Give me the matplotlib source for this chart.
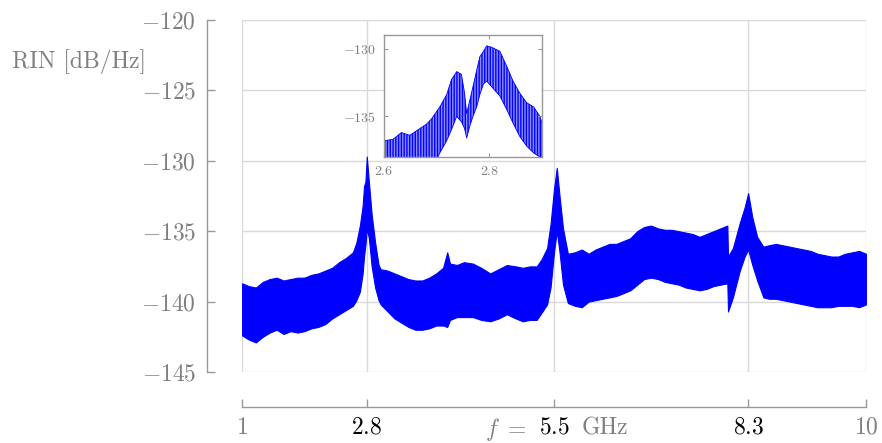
import numpy as np
import matplotlib.pyplot as plt

# RIN spectrum, envelopes (GHz, dB/Hz)
freq = [1.00, 1.10, 1.20, 1.30, 1.40, 1.50, 1.60, 1.70, 1.80, 1.90,
        2.00, 2.10, 2.20, 2.30, 2.40, 2.50, 2.60, 2.65, 2.70, 2.74,
        2.76, 2.78, 2.80, 2.83, 2.87, 2.92, 2.97, 3.00, 3.10, 3.20,
        3.30, 3.40, 3.50, 3.60, 3.70, 3.80, 3.90, 3.96, 4.00, 4.10,
        4.20, 4.33, 4.45, 4.58, 4.70, 4.82, 4.95, 5.05, 5.15, 5.25,
        5.32, 5.40, 5.45, 5.50, 5.54, 5.58, 5.63, 5.70, 5.80, 5.90,
        6.00, 6.10, 6.20, 6.30, 6.40, 6.50, 6.60, 6.70, 6.80, 6.90,
        7.00, 7.10, 7.20, 7.30, 7.40, 7.50, 7.60, 7.70, 7.80, 7.90,
        8.00, 8.01, 8.08, 8.18, 8.25, 8.30, 8.36, 8.43, 8.52, 8.60,
        8.70, 8.80, 8.90, 9.00, 9.10, 9.20, 9.30, 9.40, 9.50, 9.60,
        9.70, 9.80, 9.90, 10.0]
rin_hi = [-138.7, -138.9, -139.0, -138.6, -138.4, -138.3, -138.5, -138.4, -138.3, -138.3,
          -138.1, -138.0, -137.8, -137.6, -137.2, -136.9, -136.5, -135.8, -134.6, -133.2,
          -131.8, -131.5, -129.7, -131.5, -133.8, -135.8, -137.4, -137.7, -137.8, -138.0,
          -138.2, -138.4, -138.5, -138.5, -138.3, -138.0, -137.6, -136.5, -137.3, -137.4,
          -137.2, -137.3, -137.6, -138.0, -137.7, -137.4, -137.5, -137.6, -137.5, -137.5,
          -137.0, -136.2, -134.5, -132.0, -130.5, -132.5, -134.8, -136.6, -136.5, -136.3,
          -136.6, -136.3, -136.1, -135.9, -135.9, -135.7, -135.5, -135.0, -134.7, -134.6,
          -134.8, -134.9, -134.9, -135.0, -135.1, -135.2, -135.4, -135.2, -135.0, -134.8,
          -134.6, -136.8, -136.2, -134.4, -133.3, -132.3, -134.0, -135.4, -136.1, -136.0,
          -135.9, -136.0, -136.1, -136.2, -136.3, -136.4, -136.6, -136.7, -136.8, -136.8,
          -136.6, -136.5, -136.4, -136.6]
rin_lo = [-142.4, -142.7, -142.9, -142.5, -142.2, -142.0, -142.3, -142.1, -142.2, -142.1,
          -141.9, -141.8, -141.6, -141.2, -140.9, -140.6, -140.3, -139.9, -139.3, -138.0,
          -136.8, -136.0, -134.8, -135.5, -137.5, -139.0, -139.9, -140.2, -140.7, -141.2,
          -141.5, -141.8, -142.0, -142.0, -141.9, -141.7, -141.7, -141.8, -141.3, -141.1,
          -141.1, -141.1, -141.3, -141.4, -141.2, -140.9, -141.2, -141.4, -141.3, -141.3,
          -140.8, -140.2, -139.0, -136.5, -135.0, -136.5, -138.8, -140.1, -140.3, -140.4,
          -140.0, -139.9, -139.8, -139.7, -139.6, -139.4, -139.2, -138.8, -138.4, -138.3,
          -138.4, -138.6, -138.7, -138.8, -139.0, -139.1, -139.2, -139.1, -138.9, -138.8,
          -138.7, -140.7, -139.7, -137.8, -136.8, -136.3, -137.4, -138.5, -139.7, -139.8,
          -139.8, -139.9, -140.0, -140.1, -140.2, -140.3, -140.4, -140.4, -140.4, -140.3,
          -140.3, -140.3, -140.4, -140.2]

# zoom around the 2.8 GHz peak
zoom_f = [2.600, 2.617, 2.633, 2.649, 2.668, 2.680, 2.690, 2.706, 2.719, 2.728,
          2.738, 2.747, 2.753, 2.757, 2.763, 2.769, 2.776, 2.782, 2.789, 2.795,
          2.804, 2.820, 2.833, 2.845, 2.858, 2.871, 2.884, 2.896, 2.900]
zoom_hi = [-136.8, -136.7, -136.2, -136.4, -135.9, -135.6, -135.2, -134.3, -133.4, -132.3,
           -131.7, -131.9, -133.3, -134.8, -133.8, -132.8, -131.6, -130.6, -130.2, -129.8,
           -129.9, -130.2, -131.3, -132.4, -133.3, -134.0, -134.3, -135.0, -135.5]
zoom_lo = [-139.0, -139.0, -139.0, -139.0, -139.0, -139.0, -139.0, -137.7, -136.8, -136.0,
           -135.0, -135.4, -135.9, -136.6, -135.7, -135.0, -134.3, -133.4, -132.6, -132.4,
           -132.8, -133.5, -134.5, -135.5, -136.5, -137.2, -137.7, -138.0, -138.2]

yticks = [-145, -140, -135, -130, -125, -120]
xticks = [1, 2.8, 5.5, 8.3, 10]
xtick_labels = ['1', '2.8', '5.5', '8.3', '10']

plt.rcParams['font.family'] = 'serif'
plt.rcParams['font.serif'] = ['cmr10']
plt.rcParams['mathtext.fontset'] = 'cm'
plt.rcParams['hatch.linewidth'] = 1.0

gray_txt = '#7f7f7f'
gray_ax = '#999999'
grid_c = '#d9d9d9'

fig = plt.figure(figsize=(8.82, 4.43), dpi=100)
ax = fig.add_axes([242/882, 71/443, 624/882, 352/443])

ax.fill_between(freq, rin_lo, rin_hi, color='blue', lw=0.8, zorder=2)

ax.set_xlim(1, 10)
ax.set_ylim(-145, -120)
ax.set_xticks(xticks)
ax.set_yticks(yticks)
ax.set_yticklabels(['$%d$' % v for v in yticks])
ax.set_xticklabels(['$%s$' % s for s in xtick_labels])
ax.grid(True, color=grid_c, lw=1.0, zorder=0)
ax.set_axisbelow(True)

for s in ['top', 'right']:
    ax.spines[s].set_visible(False)
for s in ['left', 'bottom']:
    ax.spines[s].set_position(('outward', 25))
    ax.spines[s].set_color(gray_ax)
    ax.spines[s].set_linewidth(1.0)

ax.tick_params(axis='y', direction='in', length=6, width=1, color=gray_ax,
               labelsize=17, labelcolor=gray_txt, pad=8)
ax.tick_params(axis='x', direction='in', length=6, width=1, color=gray_ax,
               labelsize=17, pad=7)
for lab, s in zip(ax.get_xticklabels(), xtick_labels):
    lab.set_color(gray_txt if s in ('1', '10') else 'black')

# "f = 5.5 GHz" decoration around the middle tick
ax.annotate('$f\\ =$', xy=(5.5, 0), xycoords=('data', 'axes fraction'),
            xytext=(-20, -31.5), textcoords='offset points', ha='right', va='top',
            fontsize=17, color=gray_txt)
ax.annotate('GHz', xy=(5.5, 0), xycoords=('data', 'axes fraction'),
            xytext=(20, -32.5), textcoords='offset points', ha='left', va='top',
            fontsize=17, color=gray_txt)

fig.text(12/882, 1 - 62/443, 'RIN [dB/Hz]', fontsize=17, color=gray_txt,
         ha='left', va='center')

# inset
ins = fig.add_axes([384/882, 286/443, 158/882, 122/443])
ins.set_facecolor('white')
ins.fill_between(zoom_f, zoom_lo, zoom_hi, facecolor='#8c8cff', edgecolor='blue',
                 hatch='||||||', lw=0.6)
ins.set_xlim(2.6, 2.9)
ins.set_ylim(-138, -129)
ins.set_xticks([2.6, 2.8])
ins.set_xticklabels(['$2.6$', '$2.8$'])
ins.set_yticks([-135, -130])
ins.set_yticklabels(['$-135$', '$-130$'])
for s in ins.spines.values():
    s.set_color(gray_ax)
    s.set_linewidth(1.0)
ins.tick_params(direction='in', length=3, width=0.8, color=gray_ax, top=True, right=True,
                labelsize=10, labelcolor=gray_txt, pad=6)

fig.savefig('out.png', dpi=100)
